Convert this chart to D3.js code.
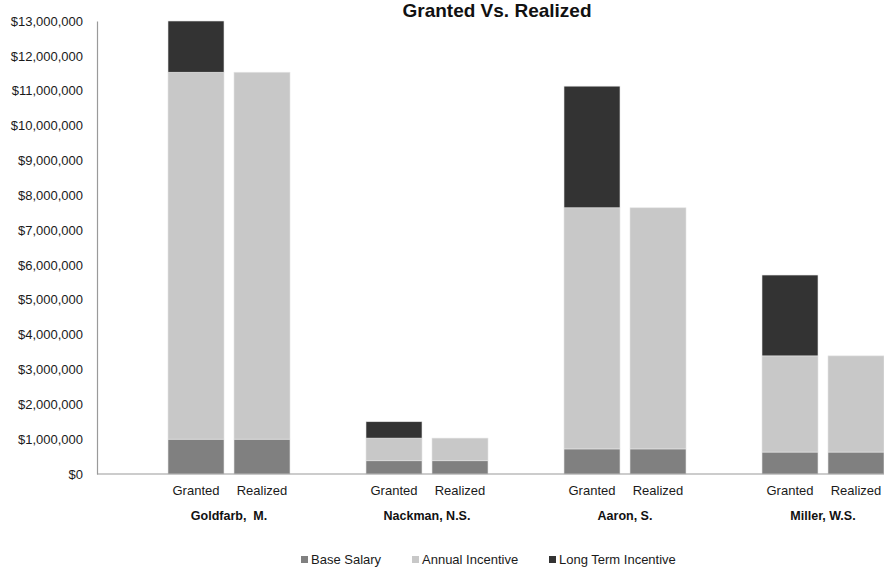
<!DOCTYPE html>
<html>
<head>
<meta charset="utf-8">
<script src="https://cdn.jsdelivr.net/npm/d3@7"></script>
<style>
  body { margin: 0; background: #fff; }
  svg { font-family: "Liberation Sans", Arial, sans-serif; }
</style>
</head>
<body>
<svg id="graph"></svg>
<script>
// values, in dollars
let people = ['Goldfarb,  M.', 'Nackman, N.S.', 'Aaron, S.', 'Miller, W.S.']
let kinds = ['Granted', 'Realized']
let seriesNames = ['Base Salary', 'Annual Incentive', 'Long Term Incentive']
let baseGranted = [1000000, 380000, 720000, 630000]
let annualGranted = [10530000, 650000, 6920000, 2760000]
let ltiGranted = [1470000, 470000, 3490000, 2320000]
let baseRealized = [1000000, 380000, 720000, 630000]
let annualRealized = [10530000, 650000, 6920000, 2760000]
let ltiRealized = [0, 0, 0, 0]
let yTicks = d3.range(0, 13000001, 1000000)
let colors = ['#808080', '#c8c8c8', '#333333']

function drawGraph() {
    let margin = {top: 21, bottom: 93, left: 97, right: -5}
    let fullWidth = 884
    let fullHeight = 567
    let width = fullWidth - margin.left - margin.right
    let height = fullHeight - margin.top - margin.bottom

    let svg = d3.select('svg#graph')
                .attr('width', fullWidth)
                .attr('height', fullHeight)

    // one row per bar, plus an empty slot in front of each person
    let rows = []
    let slots = []
    people.forEach((p, i) => {
        slots.push(p + '|blank')
        kinds.forEach(k => {
            slots.push(p + '|' + k)
            let g = k == 'Granted'
            rows.push({
                slot: p + '|' + k,
                person: p,
                kind: k,
                'Base Salary': g ? baseGranted[i] : baseRealized[i],
                'Annual Incentive': g ? annualGranted[i] : annualRealized[i],
                'Long Term Incentive': g ? ltiGranted[i] : ltiRealized[i]
            })
        })
    })

    let x = d3.scaleBand().domain(slots).range([0, width]).paddingInner(10 / 66).paddingOuter(5 / 66)
    let y = d3.scaleLinear().domain([0, 13000000]).range([height, 0])
    let color = d3.scaleOrdinal().domain(seriesNames).range(colors)

    let graph = svg.append('g')
                   .attr('transform', 'translate(' + margin.left + ',' + margin.top + ')')

    let stacked = d3.stack().keys(seriesNames)(rows)

    graph.selectAll('g.series')
        .data(stacked)
        .join('g')
        .attr('class', 'series')
        .attr('fill', d => color(d.key))
        .selectAll('rect')
        .data(d => d)
        .join('rect')
        .attr('x', d => x(d.data.slot))
        .attr('width', x.bandwidth())
        .attr('y', d => y(d[1]))
        .attr('height', d => y(d[0]) - y(d[1]))
        .attr('stroke', '#e4e4e4')
        .attr('stroke-width', 0.6)

    // y axis
    let yAxis = graph.append('g')
        .call(d3.axisLeft(y).tickValues(yTicks).tickSize(0).tickPadding(14).tickFormat(d3.format('$,.0f')))
    yAxis.select('.domain').attr('stroke', '#9a9a9a').attr('stroke-width', 1.2)
    yAxis.selectAll('text').attr('font-size', 13).attr('fill', '#1a1a1a')

    // baseline
    graph.append('line')
        .attr('x1', 0).attr('x2', width)
        .attr('y1', height).attr('y2', height)
        .attr('stroke', '#9a9a9a').attr('stroke-width', 1.2)

    // Granted / Realized labels
    graph.selectAll('text.kind')
        .data(rows)
        .join('text')
        .attr('class', 'kind')
        .attr('x', d => x(d.slot) + x.bandwidth() / 2)
        .attr('y', height + 21)
        .attr('text-anchor', 'middle')
        .attr('font-size', 13)
        .attr('fill', '#1a1a1a')
        .text(d => d.kind)

    // person labels
    graph.selectAll('text.person')
        .data(people)
        .join('text')
        .attr('class', 'person')
        .attr('x', p => (x(p + '|Granted') + x(p + '|Realized') + x.bandwidth()) / 2)
        .attr('y', height + 46)
        .attr('text-anchor', 'middle')
        .attr('font-size', 12.5)
        .attr('font-weight', 'bold')
        .attr('fill', '#111')
        .style('white-space', 'pre')
        .text(p => p)

    // title
    svg.append('text')
        .attr('x', 497)
        .attr('y', 17)
        .attr('text-anchor', 'middle')
        .attr('font-size', 19)
        .attr('font-weight', 'bold')
        .attr('fill', '#111')
        .text('Granted Vs. Realized')

    // legend
    let legendX = [301, 412, 549]
    let legend = svg.selectAll('g.legend')
        .data(seriesNames)
        .join('g')
        .attr('class', 'legend')
        .attr('transform', (d, i) => 'translate(' + legendX[i] + ',564)')
    legend.append('rect')
        .attr('x', 0).attr('y', -8)
        .attr('width', 7).attr('height', 7)
        .attr('fill', d => color(d))
    legend.append('text')
        .attr('x', 10)
        .attr('y', 0)
        .attr('font-size', 13)
        .attr('fill', '#1a1a1a')
        .text(d => d)
}

drawGraph()
</script>
</body>
</html>
